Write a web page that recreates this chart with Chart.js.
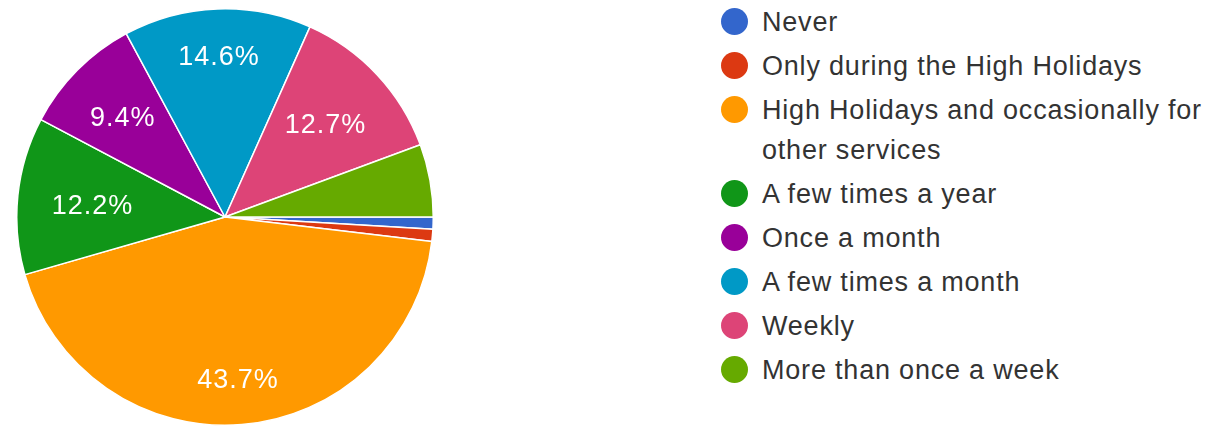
<!DOCTYPE html>
<html>
<head>
<meta charset="utf-8">
<script src="https://cdn.jsdelivr.net/npm/chart.js@4"></script>
<style>
  body { margin:0; background:#fff; width:1231px; height:426px; overflow:hidden; position:relative; font-family:"Liberation Sans", Arial, sans-serif; }
  #pieBox { position:absolute; left:16px; top:8px; width:418px; height:418px; }
  #legend { position:absolute; left:721px; top:2px; width:505px; }
  .item { display:flex; align-items:flex-start; margin-bottom:4px; }
  .dot { width:27px; height:27px; border-radius:50%; flex:none; margin-top:6px; }
  .txt { margin-left:14px; font-size:27px; letter-spacing:0.8px; line-height:40px; color:#333; max-width:465px; }
</style>
</head>
<body>
<div id="pieBox"><canvas id="pie"></canvas></div>
<div id="legend"></div>
<script>
const labels = [
  "Never",
  "Only during the High Holidays",
  "High Holidays and occasionally for other services",
  "A few times a year",
  "Once a month",
  "A few times a month",
  "Weekly",
  "More than once a week"
];
const counts = [2, 2, 93, 26, 20, 31, 27, 12];
const colors = ["#3366cc", "#dc3912", "#ff9900", "#109618", "#990099", "#0099c6", "#dd4477", "#66aa00"];

const total = counts.reduce((s, v) => s + v, 0);

// html legend so the long label can wrap like the original
const legend = document.getElementById('legend');
labels.forEach((l, i) => {
  const row = document.createElement('div');
  row.className = 'item';
  row.innerHTML = '<span class="dot" style="background:' + colors[i] + '"></span><span class="txt"></span>';
  row.querySelector('.txt').textContent = l;
  legend.appendChild(row);
});

// percent labels inside the bigger slices
const pctLabels = {
  id: 'pctLabels',
  afterDatasetsDraw(chart) {
    const c = chart.ctx;
    const meta = chart.getDatasetMeta(0);
    c.save();
    c.font = '27px "Liberation Sans", Arial, sans-serif';
    c.letterSpacing = '1px';
    c.fillStyle = '#fff';
    c.textAlign = 'center';
    c.textBaseline = 'middle';
    meta.data.forEach((arc, i) => {
      const pct = counts[i] / total * 100;
      if (pct < 8) return;
      const p = arc.getProps(['x', 'y', 'startAngle', 'endAngle', 'outerRadius'], true);
      const mid = (p.startAngle + p.endAngle) / 2;
      const txt = pct.toFixed(1) + '%';
      const hw = c.measureText(txt).width / 2, hh = 11;
      const cs = Math.cos(mid), sn = Math.sin(mid);
      const d = p.outerRadius * 0.84 - (Math.abs(cs) * hw + Math.abs(sn) * hh);
      c.fillText(txt, p.x + cs * d, p.y + sn * d + 3);
    });
    c.restore();
  }
};

new Chart(document.getElementById('pie'), {
  type: 'pie',
  data: {
    labels: labels,
    datasets: [{ data: counts, backgroundColor: colors, borderColor: '#fff', borderWidth: 1.5 }]
  },
  options: {
    responsive: true,
    maintainAspectRatio: false,
    animation: false,
    rotation: 90,
    layout: { padding: 0 },
    plugins: { legend: { display: false }, tooltip: { enabled: false } }
  },
  plugins: [pctLabels]
});
</script>
</body>
</html>
